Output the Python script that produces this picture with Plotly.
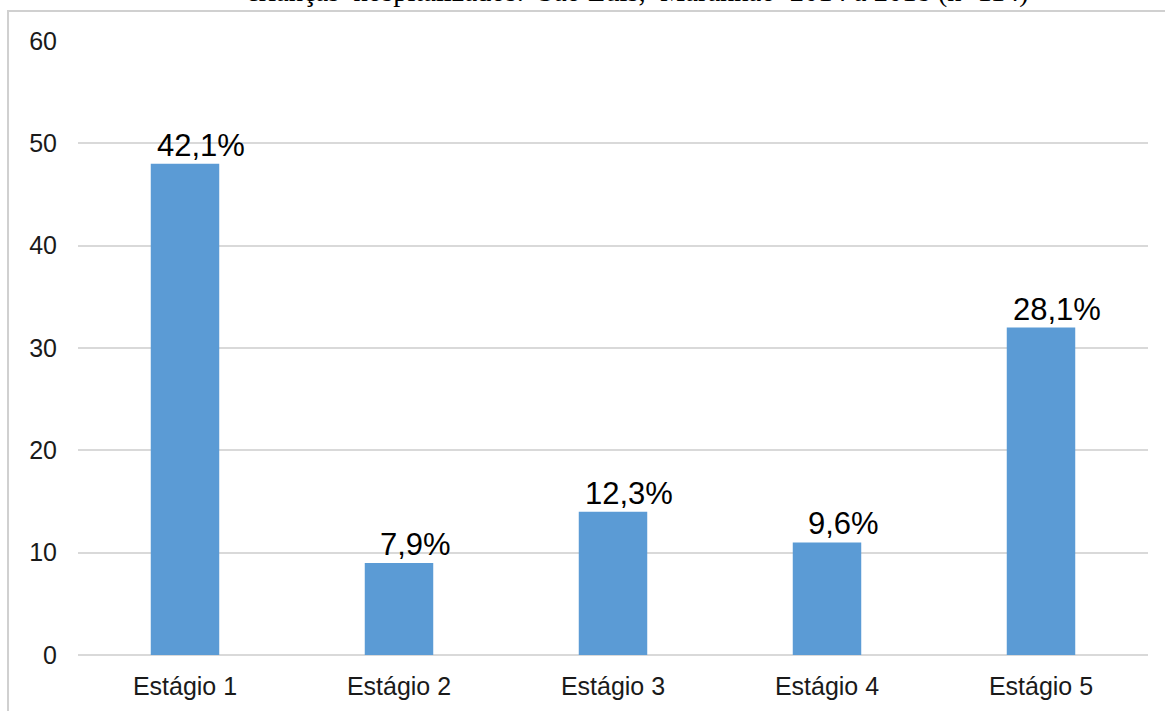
import plotly.graph_objects as go

categories = ["Estágio 1", "Estágio 2", "Estágio 3", "Estágio 4", "Estágio 5"]
counts = [48, 9, 14, 11, 32]
labels = ["42,1%", "7,9%", "12,3%", "9,6%", "28,1%"]
yticks = [0, 10, 20, 30, 40, 50, 60]
title_text = "crianças  hospitalizados.  São Luís,  Maranhão  2014 a 2018 (n=114)"

fig = go.Figure(go.Bar(
    x=categories, y=counts,
    marker=dict(color="#5B9BD5", line=dict(width=0)),
    cliponaxis=False,
))

label_annotations = [
    dict(x=c, y=v, text=t, xref="x", yref="y", showarrow=False,
         xanchor="center", yanchor="bottom", xshift=16, yshift=-1,
         font=dict(family="Liberation Sans, Arial", size=31, color="#000000"))
    for c, v, t in zip(categories, counts, labels)
]

fig.update_layout(
    width=1165, height=711,
    margin=dict(l=78, r=17, t=41, b=56),
    paper_bgcolor="white", plot_bgcolor="white",
    bargap=0.68,
    showlegend=False,
    font=dict(family="Liberation Sans, Arial", size=25, color="#1a1a1a"),
    xaxis=dict(showline=False, ticks="", showgrid=False, ticklabelstandoff=14,
               tickfont=dict(size=25, color="#1a1a1a")),
    yaxis=dict(range=[0, 60], tickvals=yticks, showgrid=True,
               gridcolor="#D9D9D9", gridwidth=2, zeroline=True,
               zerolinecolor="#D9D9D9", zerolinewidth=2,
               ticks="", ticklabelstandoff=20,
               tickfont=dict(size=25, color="#1a1a1a")),
    shapes=[dict(type="rect", xref="paper", yref="paper",
                 x0=-0.0654, x1=1.1, y0=-0.2, y1=1.0489,
                 line=dict(color="#D0D0D0", width=2), fillcolor="rgba(0,0,0,0)",
                 layer="below")],
    annotations=label_annotations + [dict(text=title_text, xref="paper", yref="paper",
                      x=0.523, y=1.0798, xanchor="center", yanchor="middle",
                      showarrow=False,
                      font=dict(family="Liberation Serif, Times New Roman", size=28.5, color="#000000"))],
)

fig.write_html("out.html")
